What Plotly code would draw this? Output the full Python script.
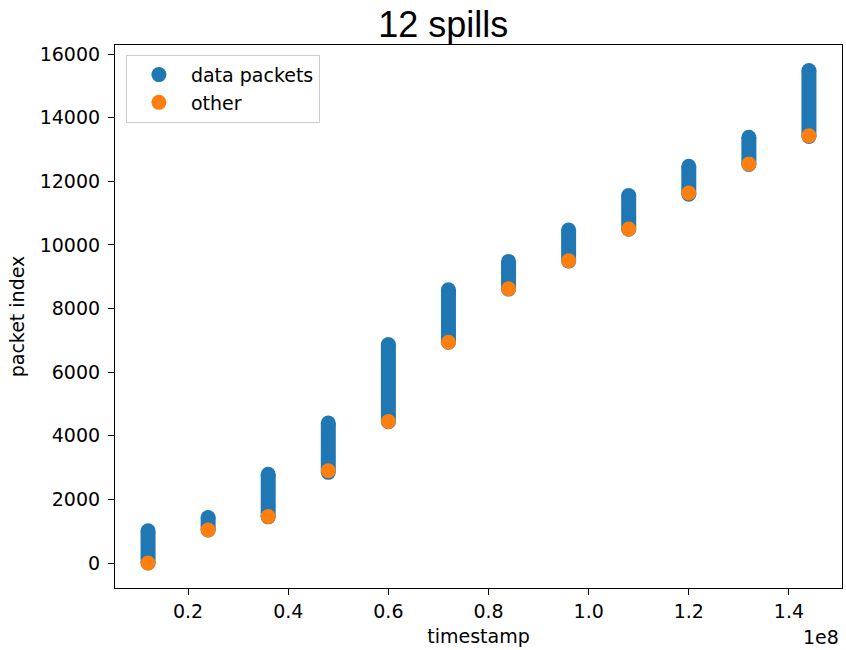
import plotly.graph_objects as go

# Spill timestamps (units of 1e8) and packet-index ranges per spill
spill_ts = [0.12, 0.24, 0.36, 0.48, 0.60, 0.72, 0.84, 0.96, 1.08, 1.20, 1.32, 1.44]
data_first = [0, 1040, 1450, 2850, 4440, 6940, 8610, 9490, 10490, 11590, 12530, 13410]
data_last = [1010, 1430, 2790, 4400, 6870, 8590, 9480, 10465, 11550, 12470, 13380, 15480]
other_idx = [0, 1040, 1460, 2900, 4450, 6940, 8620, 9500, 10500, 11630, 12540, 13430]

x_ticks = [0.2, 0.4, 0.6, 0.8, 1.0, 1.2, 1.4]
x_ticktext = ["0.2", "0.4", "0.6", "0.8", "1.0", "1.2", "1.4"]
y_ticks = [0, 2000, 4000, 6000, 8000, 10000, 12000, 14000, 16000]

BLUE = "#1f77b4"
ORANGE = "#ff7f0e"
MSIZE = 15
FONT = dict(family="DejaVu Sans", size=19, color="#000000")

# each spill's data packets form a continuous column of markers
col_x, col_y = [], []
for t, a, b in zip(spill_ts, data_first, data_last):
    col_x += [t, t, None]
    col_y += [a, b, None]

fig = go.Figure()
fig.add_trace(go.Scatter(
    x=col_x, y=col_y, mode="lines+markers",
    line=dict(color=BLUE, width=MSIZE),
    marker=dict(color=BLUE, size=MSIZE),
    showlegend=False, hoverinfo="skip", legendgroup="data",
))
fig.add_trace(go.Scatter(
    x=[None], y=[None], mode="markers", name="data packets",
    marker=dict(color=BLUE, size=MSIZE), legendgroup="data",
))
fig.add_trace(go.Scatter(
    x=spill_ts, y=other_idx, mode="markers", name="other",
    marker=dict(color=ORANGE, size=MSIZE),
))

axis_common = dict(
    showline=True, linecolor="#000000", linewidth=1.2, mirror=True,
    ticks="outside", ticklen=6, tickwidth=1.2, tickcolor="#000000",
    showgrid=False, zeroline=False, tickfont=FONT,
)

fig.update_layout(
    width=846, height=650,
    margin=dict(l=115, r=4, t=45, b=62),
    paper_bgcolor="white", plot_bgcolor="white",
    title=dict(text="12 spills", x=0.524, xanchor="center", y=0.962, yanchor="middle",
               font=dict(family="Liberation Sans, Arial", size=36, color="#000000")),
    xaxis=dict(range=[0.054, 1.506], tickvals=x_ticks, ticktext=x_ticktext,
               title=dict(text="timestamp", font=FONT, standoff=8), **axis_common),
    yaxis=dict(range=[-786, 16283], tickvals=y_ticks, ticktext=[str(v) for v in y_ticks],
               ticklabelstandoff=4,
               title=dict(text="packet index", font=FONT, standoff=9), **axis_common),
    legend=dict(x=0.015, y=0.982, xanchor="left", yanchor="top",
                bgcolor="rgba(255,255,255,0.8)", bordercolor="#cccccc", borderwidth=1,
                font=FONT, itemwidth=54, tracegroupgap=0),
    annotations=[dict(text="1e8", xref="paper", yref="paper", x=0.998, y=-0.09,
                      xanchor="right", yanchor="middle", showarrow=False, font=FONT)],
)

fig.write_html("out.html")
